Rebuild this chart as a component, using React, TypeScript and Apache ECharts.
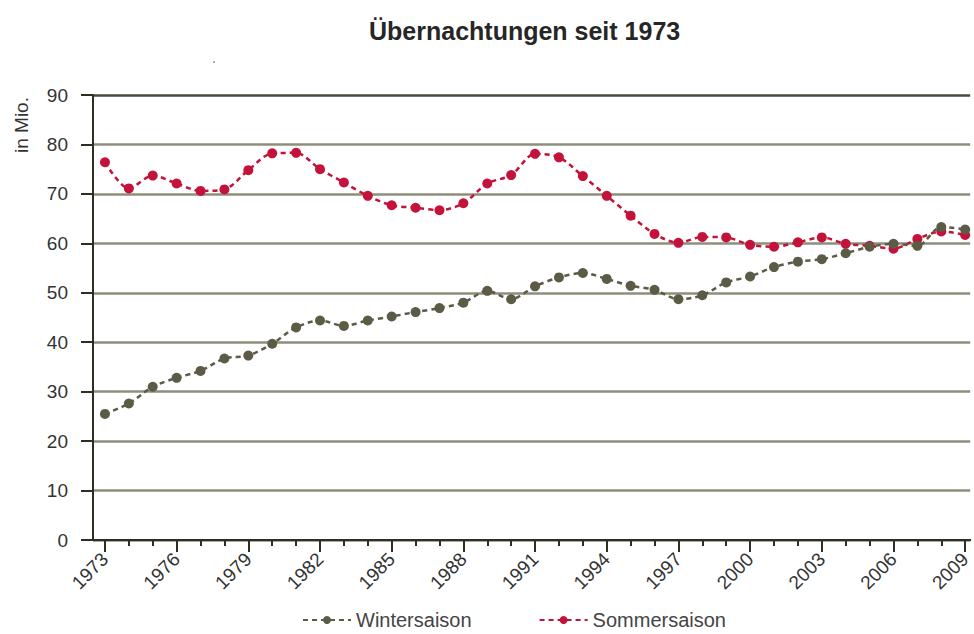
import React, { useEffect, useRef } from "react";
import * as echarts from "echarts";

const years: number[] = [
  1973, 1974, 1975, 1976, 1977, 1978, 1979, 1980, 1981, 1982,
  1983, 1984, 1985, 1986, 1987, 1988, 1989, 1990, 1991, 1992,
  1993, 1994, 1995, 1996, 1997, 1998, 1999, 2000, 2001, 2002,
  2003, 2004, 2005, 2006, 2007, 2008, 2009,
];

const labelYears: number[] = [1973, 1976, 1979, 1982, 1985, 1988, 1991, 1994, 1997, 2000, 2003, 2006, 2009];

const winterValues: number[] = [
  25.5, 27.6, 31.0, 32.8, 34.2, 36.7, 37.3, 39.7, 43.0, 44.4,
  43.3, 44.4, 45.2, 46.1, 46.9, 48.0, 50.4, 48.7, 51.3, 53.1,
  54.0, 52.8, 51.4, 50.6, 48.7, 49.5, 52.1, 53.3, 55.2, 56.3,
  56.8, 58.0, 59.3, 59.9, 59.5, 63.3, 62.8,
];

const sommerValues: number[] = [
  76.4, 71.1, 73.7, 72.1, 70.6, 70.9, 74.8, 78.2, 78.3, 75.0,
  72.3, 69.6, 67.7, 67.2, 66.7, 68.1, 72.1, 73.8, 78.1, 77.4,
  73.6, 69.6, 65.6, 61.9, 60.1, 61.3, 61.2, 59.7, 59.3, 60.2,
  61.2, 59.9, 59.5, 58.9, 60.9, 62.4, 61.7,
];

const seriesNames: string[] = ["Wintersaison", "Sommersaison"];
const titleText = "Übernachtungen seit 1973";
const unitText = "in Mio.";

const FONT = "'Liberation Sans', Arial, Helvetica, sans-serif";
const AXIS_DARK = "#2e2e24";
const GRID_GREY = "#8e8e7c";
const WINTER = "#5b5b46";
const SOMMER = "#c3133a";

const X_MIN = 1972.5;
const X_MAX = 2009.21;

export default function App() {
  const ref = useRef<HTMLDivElement>(null);

  useEffect(() => {
    if (!ref.current) return;
    const chart = echarts.init(ref.current, undefined, { renderer: "svg" });
    const splitColors = [GRID_GREY, GRID_GREY, GRID_GREY, GRID_GREY, GRID_GREY, GRID_GREY, GRID_GREY, GRID_GREY, GRID_GREY, "#4a4a3c"];
    const winterData = years.map((y, i) => [y, winterValues[i]]);
    const sommerData = years.map((y, i) => [y, sommerValues[i]]);
    chart.setOption({
      animation: false,
      backgroundColor: "#ffffff",
      textStyle: { fontFamily: FONT },
      title: {
        text: titleText,
        left: 364,
        top: 13,
        textStyle: { fontFamily: FONT, fontSize: 25, fontWeight: "bold", color: "#262626" },
      },
      graphic: [
        {
          type: "text",
          x: 12,
          y: 153,
          rotation: Math.PI / 2,
          style: { text: unitText, fontFamily: FONT, fontSize: 19, fill: "#333333" },
        },
        {
          type: "circle",
          shape: { cx: 214, cy: 62, r: 0.8 },
          style: { fill: "#777777" },
        },
      ],
      legend: {
        data: seriesNames,
        top: 609,
        left: 297,
        padding: [0, 5],
        itemGap: 67,
        itemWidth: 48,
        itemHeight: 10,
        textStyle: { fontFamily: FONT, fontSize: 20, lineHeight: 22, color: "#444444" },
      },
      grid: { left: 93, top: 95, right: 0, bottom: 94, containLabel: false },
      xAxis: [
        {
          type: "value",
          min: X_MIN,
          max: X_MAX,
          axisLine: { show: true, lineStyle: { color: AXIS_DARK, width: 2 } },
          axisTick: { show: true, customValues: years, length: 6, lineStyle: { color: AXIS_DARK, width: 2 } },
          axisLabel: { show: false },
          splitLine: { show: false },
        },
        {
          type: "value",
          min: X_MIN,
          max: X_MAX,
          position: "bottom",
          axisLine: { show: true, lineStyle: { color: AXIS_DARK, width: 2 } },
          axisTick: { show: true, customValues: labelYears, length: 12, lineStyle: { color: AXIS_DARK, width: 2 } },
          axisLabel: {
            show: true,
            customValues: labelYears,
            formatter: (v: number) => String(v),
            rotate: 45,
            margin: 16,
            fontFamily: FONT,
            fontSize: 19,
            color: "#333333",
          },
          splitLine: { show: false },
        },
      ],
      yAxis: {
        type: "value",
        min: 0,
        max: 90,
        interval: 10,
        axisLine: { show: true, lineStyle: { color: AXIS_DARK, width: 2 } },
        axisTick: { show: true, length: 12, lineStyle: { color: AXIS_DARK, width: 2 } },
        axisLabel: { margin: 25, fontFamily: FONT, fontSize: 19, color: "#333333" },
        splitLine: { show: true, lineStyle: { color: splitColors, width: 2.5 } },
      },
      series: [
        {
          name: seriesNames[0],
          type: "line",
          xAxisIndex: 0,
          data: winterData,
          smooth: 0.3,
          symbol: "circle",
          symbolSize: 10,
          itemStyle: { color: WINTER },
          lineStyle: { color: WINTER, width: 2.5, type: [5, 4] },
          z: 3,
        },
        {
          name: seriesNames[1],
          type: "line",
          xAxisIndex: 0,
          data: sommerData,
          smooth: 0.3,
          symbol: "circle",
          symbolSize: 10,
          itemStyle: { color: SOMMER },
          lineStyle: { color: SOMMER, width: 2.5, type: [5, 4] },
          z: 2,
        },
      ],
    });
    return () => chart.dispose();
  }, []);

  return <div ref={ref} style={{ width: 974, height: 634, position: "absolute", left: 0, top: 0 }} />;
}
